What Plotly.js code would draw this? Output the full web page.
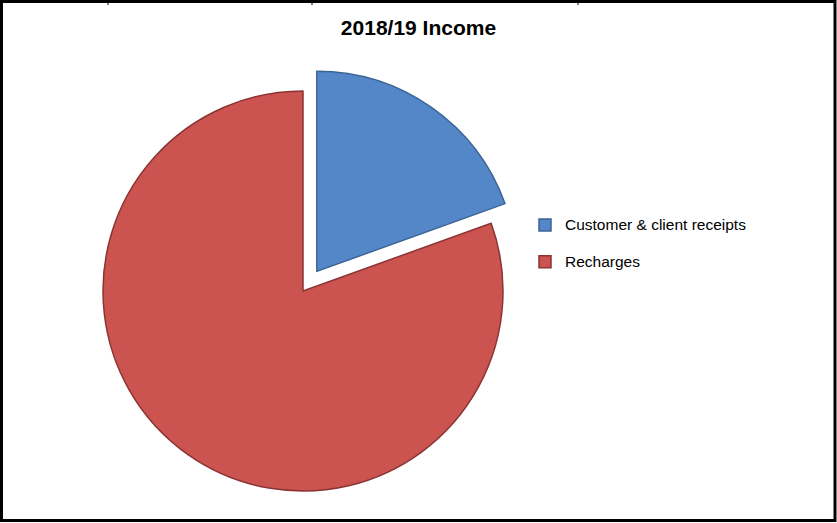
<!DOCTYPE html>
<html>
<head>
<meta charset="utf-8">
<script src="https://cdn.plot.ly/plotly-3.0.1.min.js"></script>
<style>
html, body { margin: 0; padding: 0; background: #fff; }
#chart { width: 837px; height: 523px; }
</style>
</head>
<body>
<div id="chart"></div>
<script>
const chartTitle = "2018/19 Income";
const categories = ["Customer & client receipts", "Recharges"];
const values = [19.5, 80.5];
const sliceColors = ["#5487C8", "#CB5350"];
const edgeColors = ["#3B6496", "#8B3533"];
const pulls = [0.12, 0];

const W = 837, H = 523;
const trace = {
  type: "pie",
  labels: categories.map(c => "<span style=\"font-size:15.5px\">" + c + "</span><br> "),
  values: values,
  sort: false,
  direction: "clockwise",
  rotation: 0,
  pull: pulls,
  textinfo: "none",
  hoverinfo: "label+value",
  marker: { colors: sliceColors, line: { color: edgeColors, width: 1.5 } },
  domain: { x: [79 / W, 527 / W], y: [1 - 515 / H, 1 - 67 / H] }
};

const layout = {
  width: W, height: H,
  margin: { l: 0, r: 0, t: 0, b: 0 },
  paper_bgcolor: "#ffffff",
  font: { family: "Liberation Sans, Arial, sans-serif", color: "#000" },
  title: {
    text: "<b>" + chartTitle + "</b>",
    font: { size: 21, family: "Liberation Sans, Arial, sans-serif", color: "#000" },
    x: 0.5, xanchor: "center",
    y: 1 - 28 / H, yanchor: "middle"
  },
  showlegend: true,
  legend: {
    x: 525 / W, xanchor: "left",
    y: 1 - 210 / H, yanchor: "top",
    valign: "top",
    font: { size: 13, color: "#000" },
    bgcolor: "rgba(0,0,0,0)"
  },
  shapes: [
    { type: "rect", xref: "paper", yref: "paper",
      x0: 1.5 / W, x1: 1 - 2 / W, y0: 2.5 / H, y1: 1 - 1.5 / H,
      line: { color: "#000", width: 3 } },
    { type: "line", xref: "paper", yref: "paper", x0: 108 / W, x1: 108 / W, y0: 1, y1: 1 - 5 / H, line: { color: "#000", width: 1 } },
    { type: "line", xref: "paper", yref: "paper", x0: 312 / W, x1: 312 / W, y0: 1, y1: 1 - 5 / H, line: { color: "#000", width: 1 } },
    { type: "line", xref: "paper", yref: "paper", x0: 578 / W, x1: 578 / W, y0: 1, y1: 1 - 5 / H, line: { color: "#000", width: 1 } }
  ]
};

Plotly.newPlot("chart", [trace], layout, { displayModeBar: false, staticPlot: true });
</script>
</body>
</html>
